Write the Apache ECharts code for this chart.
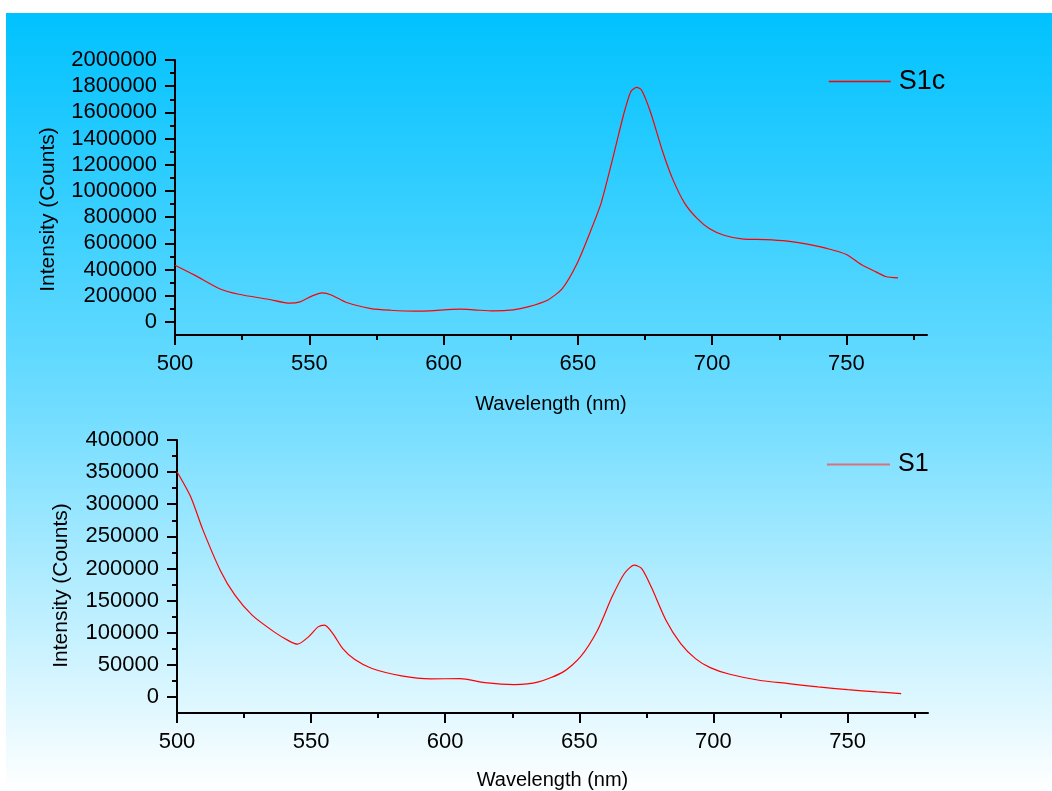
<!DOCTYPE html>
<html>
<head>
<meta charset="utf-8">
<script src="https://cdn.jsdelivr.net/npm/echarts@6/dist/echarts.min.js"></script>
<style>
html,body{margin:0;padding:0;background:#fff;}
#chart{width:1052px;height:791px;}
</style>
</head>
<body>
<div id="chart"></div>
<script>
// ---- data ----
var s1cWave = [500, 507.3, 516.4, 523.7, 534.7, 542.9, 546.5, 551.1, 554.8, 558.4, 563.9, 573, 580.3, 589.4, 594.9, 605.9, 611.3, 618.6, 625.9, 631.4, 638.7, 644.2, 649.7, 655.1, 658.8, 663.3, 667, 669.7, 671.9, 673.7, 677, 681.6, 685.2, 689.8, 694.4, 698.9, 704.4, 711.7, 719.9, 728.1, 735.4, 742.7, 750, 755.5, 761, 764.6, 769.2];
var s1cCounts = [433000, 357000, 255000, 211000, 173000, 143000, 153000, 199000, 222000, 204000, 148000, 102000, 89000, 82000, 84000, 97000, 92000, 84000, 92000, 115000, 166000, 255000, 446000, 713000, 917000, 1274000, 1580000, 1758000, 1791000, 1771000, 1605000, 1299000, 1096000, 905000, 790000, 713000, 662000, 632000, 629000, 617000, 594000, 561000, 515000, 438000, 382000, 347000, 336000];
var s1Wave = [500, 505.1, 509.7, 516.1, 521.6, 528, 536.2, 541.7, 544.9, 549, 552.6, 555, 558.1, 561.8, 566.3, 572.7, 583.7, 594.6, 605.6, 614.7, 625.7, 634.8, 644, 650.4, 656.8, 662.2, 666.8, 670.5, 673.2, 676.8, 682.3, 687.8, 693.3, 698.8, 706.1, 717, 728, 739, 750, 760.9, 770];
var s1Counts = [350600, 311700, 259700, 197400, 158400, 127300, 101300, 87300, 82100, 93500, 109100, 111700, 98700, 75300, 58200, 44200, 32700, 28100, 28600, 22300, 19200, 23400, 39000, 62300, 103900, 155800, 192200, 205200, 200000, 171400, 119500, 83100, 59700, 45700, 35300, 26000, 20800, 15600, 11400, 7800, 5200];

var xMajorTicks = [500, 550, 600, 650, 700, 750];
var xMinorTicks = [525, 575, 625, 675, 725, 775];
var topYMajorTicks = [0, 200000, 400000, 600000, 800000, 1000000, 1200000, 1400000, 1600000, 1800000, 2000000];
var topYMinorTicks = [100000, 300000, 500000, 700000, 900000, 1100000, 1300000, 1500000, 1700000, 1900000];
var botYMajorTicks = [0, 50000, 100000, 150000, 200000, 250000, 300000, 350000, 400000];
var botYMinorTicks = [25000, 75000, 125000, 175000, 225000, 275000, 325000, 375000];

function pairs(xs, ys) { return xs.map(function (x, i) { return [x, ys[i]]; }); }
function plain(v) { return String(v); }

var FONT = '"Liberation Sans", Arial, Helvetica, sans-serif';

function xAxes(grid, gap) {
  return [{
    type: 'value', gridIndex: grid, position: 'bottom', min: 500, max: 780,
    name: 'Wavelength (nm)', nameLocation: 'middle', nameGap: gap,
    nameTextStyle: { fontFamily: FONT, fontSize: 20, color: '#000' },
    axisLine: { show: true, onZero: false, lineStyle: { color: '#000', width: 2 } },
    axisTick: { show: true, length: 10, lineStyle: { color: '#000', width: 2 }, customValues: xMajorTicks },
    axisLabel: { show: true, margin: 18, fontFamily: FONT, fontSize: 22, color: '#000', customValues: xMajorTicks, formatter: plain },
    splitLine: { show: false }
  }, {
    type: 'value', gridIndex: grid, position: 'bottom', min: 500, max: 780,
    axisLine: { show: false, onZero: false },
    axisTick: { show: true, length: 5, lineStyle: { color: '#000', width: 2 }, customValues: xMinorTicks },
    axisLabel: { show: false },
    splitLine: { show: false }
  }];
}

function yAxes(grid, mn, mx, major, minor, gap, pad) {
  return [{
    type: 'value', gridIndex: grid, position: 'left', min: mn, max: mx,
    name: 'Intensity (Counts)', nameLocation: 'middle', nameGap: gap, nameRotate: 90,
    nameTextStyle: { fontFamily: FONT, fontSize: 21, color: '#000', padding: pad },
    axisLine: { show: true, onZero: false, lineStyle: { color: '#000', width: 2 } },
    axisTick: { show: true, length: 10, lineStyle: { color: '#000', width: 2 }, customValues: major },
    axisLabel: { show: true, margin: 18, fontFamily: FONT, fontSize: 22, color: '#000', customValues: major, formatter: plain },
    splitLine: { show: false }
  }, {
    type: 'value', gridIndex: grid, position: 'left', min: mn, max: mx,
    axisLine: { show: false, onZero: false },
    axisTick: { show: true, length: 5, lineStyle: { color: '#000', width: 2 }, customValues: minor },
    axisLabel: { show: false },
    splitLine: { show: false }
  }];
}

var chart = echarts.init(document.getElementById('chart'), null, { renderer: 'canvas' });
var option = {
  animation: false,
  backgroundColor: '#ffffff',
  graphic: [{
    type: 'rect', z: -100, silent: true,
    shape: { x: 6, y: 13, width: 1046, height: 778 },
    style: {
      fill: new echarts.graphic.LinearGradient(0, 0, 0, 1, [
        { offset: 0, color: '#00C2FF' },
        { offset: 0.5, color: '#6EDCFF' },
        { offset: 1, color: '#FFFFFF' }
      ])
    }
  }],
  grid: [
    { left: 175, top: 60, width: 752, height: 275, outerBoundsMode: 'none' },
    { left: 177, top: 440, width: 751, height: 273, outerBoundsMode: 'none' }
  ],
  legend: [{
    data: ['S1c'], left: 828, top: 68, padding: 0, itemWidth: 62, itemHeight: 14, itemGap: 0,
    lineStyle: { color: '#FF0000', width: 1.5 },
    itemStyle: { opacity: 0 },
    textStyle: { fontFamily: FONT, fontSize: 27, color: '#000', padding: [0, 0, 0, 3] }
  }, {
    data: ['S1'], left: 826, top: 452, padding: 0, itemWidth: 63, itemHeight: 14, itemGap: 0,
    lineStyle: { color: '#D8737D', width: 2 },
    itemStyle: { opacity: 0 },
    textStyle: { fontFamily: FONT, fontSize: 25, color: '#000', padding: [0, 0, 0, 3] }
  }],
  xAxis: xAxes(0, 59).concat(xAxes(1, 57)),
  yAxis: yAxes(0, -100000, 2000000, topYMajorTicks, topYMinorTicks, 116, [0, 24, 0, 0])
    .concat(yAxes(1, -25000, 400000, botYMajorTicks, botYMinorTicks, 105, [0, 18, 0, 0])),
  series: [{
    name: 'S1c', type: 'line', xAxisIndex: 0, yAxisIndex: 0,
    data: pairs(s1cWave, s1cCounts), symbol: 'none', smooth: 0.25,
    lineStyle: { color: '#FF0000', width: 1.2 }, itemStyle: { color: '#FF0000' }
  }, {
    name: 'S1', type: 'line', xAxisIndex: 2, yAxisIndex: 2,
    data: pairs(s1Wave, s1Counts), symbol: 'none', smooth: 0.25,
    lineStyle: { color: '#FF0000', width: 1.2 }, itemStyle: { color: '#FF0000' }
  }]
};
chart.setOption(option);
</script>
</body>
</html>
